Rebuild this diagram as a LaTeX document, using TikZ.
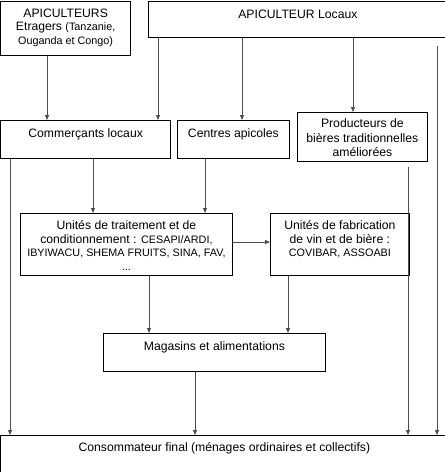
\documentclass[tikz,border=0pt]{standalone}
\usepackage{fontspec}
\setmainfont{Liberation Sans}
\usetikzlibrary{arrows.meta}
\newcommand\mainf{\fontsize{12.2}{13.5}\selectfont}
\newcommand\smallf{\fontsize{10.8}{13.5}\selectfont}
\newcommand\bxt[4]{\parbox[t][#2][t]{#1}{\centering\mainf\rule{0pt}{#3}#4\par}}
\begin{document}
\begin{tikzpicture}[x=1pt,y=-1pt,
  box/.style={draw=black,line width=0.8pt,inner sep=0pt,anchor=north west},
  arr/.style={draw=black!70,line width=0.8pt,-{Triangle[length=5pt,width=4pt]}},
  ln/.style={draw=black!70,line width=0.8pt}]
\useasboundingbox (0,0) rectangle (445,472);
\node[box] (b1) at (0.5,0.5) {\bxt{129.5pt}{54.5pt}{16.5pt}{APICULTEURS\\Etragers {\smallf(Tanzanie,\\Ouganda et Congo)}}};
\node[box] (b2) at (148,0.5) {\bxt{299pt}{36.5pt}{17.5pt}{APICULTEUR Locaux}};
\node[box] (com) at (0.5,120) {\bxt{169.5pt}{38pt}{17.5pt}{Commerçants locaux}};
\node[box] (cen) at (177,120) {\bxt{112pt}{38pt}{17.5pt}{Centres apicoles}};
\node[box] (pro) at (297,112) {\bxt{130pt}{49pt}{15.5pt}{\fontsize{12.2}{14.3}\selectfont Producteurs de\\bières traditionnelles\\améliorées}};
\node[box] (tra) at (20,213) {\bxt{212pt}{62pt}{16.5pt}{Unités de traitement et de\\conditionnement : {\smallf CESAPI/ARDI,\\IBYIWACU, SHEMA FRUITS, SINA, FAV,\\...}}};
\node[box] (fab) at (270,213) {\bxt{139pt}{62pt}{16.5pt}{Unités de fabrication\\de vin et de bière :\\{\smallf COVIBAR, ASSOABI}}};
\node[box] (mag) at (103,333) {\bxt{222pt}{38pt}{17.5pt}{Magasins et alimentations}};
\node[box] (con) at (0.5,435) {\bxt{447pt}{40pt}{16.5pt}{Consommateur final (ménages ordinaires et collectifs)}};
\coordinate (s1) at (437,46);
\coordinate (s2) at (408,167);
\draw[arr] (47,0 |- b1.south) -- (47,0 |- com.north);
\draw[arr] (158,0 |- b2.south) -- (158,0 |- com.north);
\draw[arr] (242,0 |- b2.south) -- (242,0 |- cen.north);
\draw[arr] (353,0 |- b2.south) -- (353,0 |- pro.north);
\draw[arr] (s1) -- (s1 |- con.north);
\draw[arr] (10,0 |- com.south) -- (10,0 |- con.north);
\draw[arr] (93,0 |- com.south) -- (93,0 |- tra.north);
\draw[arr] (205,0 |- cen.south) -- (205,0 |- tra.north);
\draw[arr] (s2) -- (s2 |- con.north);
\draw[arr] (tra.east |- 0,242) -- (fab.west |- 0,242);
\draw[arr] (149,0 |- tra.south) -- (149,0 |- mag.north);
\draw[arr] (288,0 |- fab.south) -- (288,0 |- mag.north);
\draw[arr] (195,0 |- mag.south) -- (195,0 |- con.north);
\end{tikzpicture}
\end{document}
